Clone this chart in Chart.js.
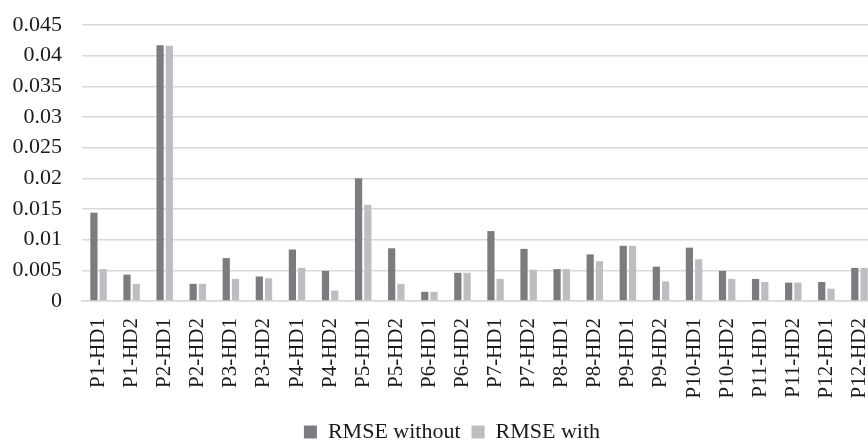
<!DOCTYPE html>
<html>
<head>
<meta charset="utf-8">
<script src="https://cdn.jsdelivr.net/npm/chart.js@4"></script>
<style>
  html, body { margin: 0; padding: 0; background: #fff; }
  #wrap { width: 868px; height: 442px; overflow: hidden; position: relative; }
  #wrap canvas { position: absolute; left: 0; top: 0; }
</style>
</head>
<body>
<div id="wrap">
  <canvas id="rmseChart" width="905" height="453"></canvas>
</div>
<script>
// categories
const labels = [
  'P1-HD1', 'P1-HD2', 'P2-HD1', 'P2-HD2', 'P3-HD1', 'P3-HD2',
  'P4-HD1', 'P4-HD2', 'P5-HD1', 'P5-HD2', 'P6-HD1', 'P6-HD2',
  'P7-HD1', 'P7-HD2', 'P8-HD1', 'P8-HD2', 'P9-HD1', 'P9-HD2',
  'P10-HD1', 'P10-HD2', 'P11-HD1', 'P11-HD2', 'P12-HD1', 'P12-HD2'
];

// series values
const rmseWithout = [
  0.0144, 0.0043, 0.0417, 0.0028, 0.0070, 0.0040,
  0.0084, 0.0049, 0.0200, 0.0086, 0.0015, 0.0046,
  0.0114, 0.0085, 0.0052, 0.0076, 0.0090, 0.0056,
  0.0087, 0.0049, 0.0036, 0.0030, 0.0031, 0.0054
];
const rmseWith = [
  0.0052, 0.0028, 0.0416, 0.0028, 0.0036, 0.0037,
  0.0054, 0.0017, 0.0157, 0.0028, 0.0015, 0.0046,
  0.0036, 0.0051, 0.0052, 0.0065, 0.0090, 0.0032,
  0.0068, 0.0036, 0.0031, 0.0030, 0.0020, 0.0054
];

// y axis ticks
const yTicks = [0, 0.005, 0.01, 0.015, 0.02, 0.025, 0.03, 0.035, 0.04, 0.045];

const serif = "'Liberation Serif', 'Times New Roman', serif";

// nudge the legend a bit right so it sits under the middle like the original
const legendShift = {
  id: 'legendShift',
  afterLayout(chart) {
    if (chart.legend) {
      chart.legend.left += 14;
      chart.legend.right += 14;
    }
  }
};

const ctx = document.getElementById('rmseChart');
const chart = new Chart(ctx, {
  type: 'bar',
  data: {
    labels: labels,
    datasets: [
      {
        label: 'RMSE without',
        data: rmseWithout,
        backgroundColor: '#7b7c80',
        categoryPercentage: 0.56,
        barPercentage: 0.78
      },
      {
        label: 'RMSE with',
        data: rmseWith,
        backgroundColor: '#bdbec2',
        categoryPercentage: 0.56,
        barPercentage: 0.78
      }
    ]
  },
  plugins: [legendShift],
  options: {
    responsive: false,
    animation: false,
    layout: { padding: { top: 25, right: 29, left: 0, bottom: 0 } },
    plugins: {
      title: { display: false },
      tooltip: { enabled: false },
      legend: {
        position: 'bottom',
        labels: {
          color: '#1a1a1a',
          font: { family: serif, size: 22 },
          boxWidth: 13,
          boxHeight: 13,
          padding: 11
        }
      }
    },
    scales: {
      x: {
        afterFit: (axis) => { axis.height = 109; },
        grid: { display: false, drawTicks: false },
        border: { color: '#d9d9d9', width: 1.5 },
        ticks: {
          color: '#1a1a1a',
          font: { family: serif, size: 21 },
          minRotation: 90,
          maxRotation: 90,
          autoSkip: false,
          padding: 17
        }
      },
      y: {
        min: 0,
        max: 0.045,
        afterFit: (axis) => {
          axis.width = 82;
          axis.paddingTop = 0;
          axis.paddingBottom = 0;
        },
        afterBuildTicks: (axis) => { axis.ticks = yTicks.map(v => ({ value: v })); },
        grid: { color: '#d9d9d9', lineWidth: 1.5, drawTicks: false },
        border: { display: false },
        ticks: {
          color: '#1a1a1a',
          font: { family: serif, size: 22 },
          padding: 20,
          callback: (v) => String(Number(v.toFixed(3)))
        }
      }
    }
  }
});
</script>
</body>
</html>
